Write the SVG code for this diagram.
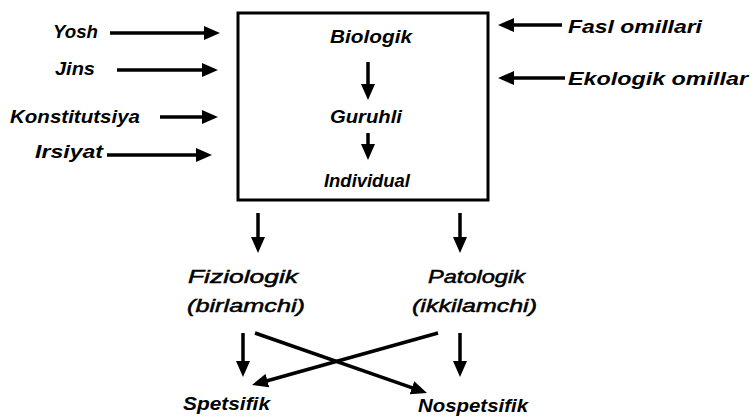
<svg xmlns="http://www.w3.org/2000/svg" width="751" height="417" viewBox="0 0 751 417">
<style>
text{font-family:"Liberation Sans",Arial,sans-serif;font-style:italic;font-weight:bold;font-size:19px;fill:#000}
.m{font-weight:normal;font-size:19px;stroke:#000;stroke-width:0.5}
.c{stroke:#000;stroke-width:3.5;fill:none;marker-end:url(#ah)}
</style>
<defs>
<marker id="ah" markerUnits="userSpaceOnUse" markerWidth="16" markerHeight="14" viewBox="0 0 16 14" refX="2" refY="7" orient="auto">
<path d="M0,0 L16,7 L0,14 z" fill="#000"/>
</marker>
</defs>
<rect width="751" height="417" fill="#fff"/>
<g id="box">
<rect x="238" y="13" width="250" height="187" fill="none" stroke="#000" stroke-width="3"/>
<text x="330" y="43" textLength="82" lengthAdjust="spacingAndGlyphs">Biologik</text>
<text x="330" y="123" textLength="72" lengthAdjust="spacingAndGlyphs">Guruhli</text>
<text x="324" y="187" textLength="86" lengthAdjust="spacingAndGlyphs">Individual</text>
</g>
<g id="yosh"><text x="53" y="38" textLength="45" lengthAdjust="spacingAndGlyphs">Yosh</text></g>
<g id="jins"><text x="55" y="75" textLength="40" lengthAdjust="spacingAndGlyphs">Jins</text></g>
<g id="konstitutsiya"><text x="10" y="123" textLength="130" lengthAdjust="spacingAndGlyphs">Konstitutsiya</text></g>
<g id="irsiyat"><text x="35" y="158" textLength="68" lengthAdjust="spacingAndGlyphs">Irsiyat</text></g>
<g id="fasl"><text x="568" y="33" textLength="134" lengthAdjust="spacingAndGlyphs">Fasl omillari</text></g>
<g id="ekologik"><text x="568" y="85" textLength="180" lengthAdjust="spacingAndGlyphs">Ekologik omillar</text></g>
<g id="fiziologik">
<text class="m" x="188" y="283" textLength="110" lengthAdjust="spacingAndGlyphs">Fiziologik</text>
<text class="m" x="187" y="312" textLength="118" lengthAdjust="spacingAndGlyphs">(birlamchi)</text>
</g>
<g id="patologik">
<text class="m" x="428" y="283" textLength="97" lengthAdjust="spacingAndGlyphs">Patologik</text>
<text class="m" x="412" y="312" textLength="125" lengthAdjust="spacingAndGlyphs">(ikkilamchi)</text>
</g>
<g id="spetsifik"><text x="183" y="410" textLength="87" lengthAdjust="spacingAndGlyphs">Spetsifik</text></g>
<g id="nospetsifik"><text x="418" y="412" textLength="110" lengthAdjust="spacingAndGlyphs">Nospetsifik</text></g>
<g id="connectors">
<line class="c" x1="368" y1="62" x2="368" y2="86"/>
<line class="c" x1="368" y1="133" x2="368" y2="146"/>
<line class="c" x1="110" y1="33" x2="206" y2="33"/>
<line class="c" x1="117" y1="70" x2="204" y2="70"/>
<line class="c" x1="160" y1="117" x2="204" y2="117"/>
<line class="c" x1="107" y1="155" x2="198" y2="155"/>
<line class="c" x1="562" y1="25" x2="512" y2="25"/>
<line class="c" x1="565" y1="78" x2="512" y2="78"/>
<line class="c" x1="258" y1="213" x2="258" y2="239"/>
<line class="c" x1="460" y1="213" x2="460" y2="239"/>
<line class="c" x1="243" y1="333" x2="243" y2="363"/>
<line class="c" x1="460" y1="333" x2="460" y2="363"/>
<line class="c" x1="255" y1="333" x2="413.8" y2="388.4"/>
<line class="c" x1="438" y1="333" x2="265.5" y2="381.2"/>
</g>
</svg>
